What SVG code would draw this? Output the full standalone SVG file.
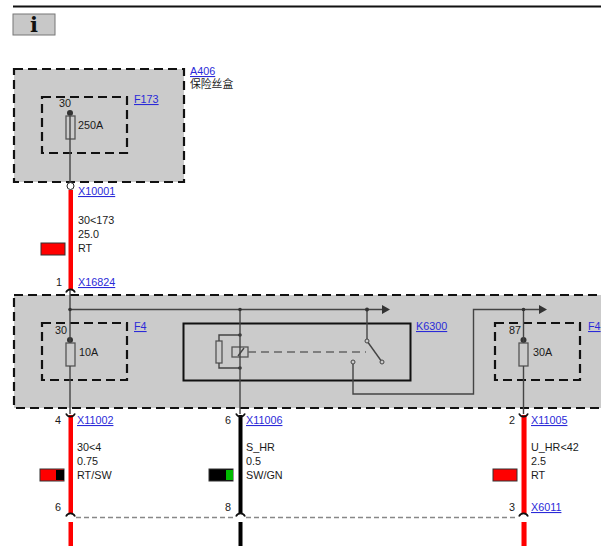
<svg xmlns="http://www.w3.org/2000/svg" width="601" height="546" viewBox="0 0 601 546">
<style>
text{font-family:"Liberation Sans",Arial,"Noto Sans CJK SC",sans-serif;font-size:10.8px;fill:#1a1a1a}
.l{fill:#2a2ad8;text-decoration:underline}
.b{fill:#cbcbcb;stroke:#111;stroke-width:2.200;stroke-dasharray:9 5}
.i{fill:none;stroke:#111;stroke-width:2.200;stroke-dasharray:9 5}
.w{fill:none;stroke:#444;stroke-width:1.400}
.f{fill:none;stroke:#555;stroke-width:1.300}
.d{fill:#333}
.c{fill:none;stroke:#111;stroke-width:1.700}
.s{stroke:#333;stroke-width:1}
</style>
<defs>
<g id="up"><path class="c" d="M-4.500 3.500 A4.800 4.800 0 0 1 4.500 3.500"/></g>
<g id="dn"><path class="c" d="M-4.500 -2.500 A4.800 4.800 0 0 0 4.500 -2.500"/></g>
</defs>
<rect x="13" y="5.500" width="588" height="2" fill="#111"/>
<g id="info"><rect x="13" y="14" width="42" height="21" fill="#c8c8c8" stroke="#777" stroke-width="1"/><text x="34" y="32" text-anchor="middle" style="font-family:'DejaVu Serif',serif;font-size:21px;font-weight:bold;fill:#111">i</text></g>
<g id="A406"><rect class="b" x="14" y="69" width="170" height="113"/><text class="l" x="190" y="75">A406</text><text x="190" y="88">保险丝盒</text></g>
<g id="F173"><rect class="i" x="42" y="97" width="85" height="56"/><text class="l" x="134" y="103">F173</text><text x="59" y="107">30</text><text x="78" y="129">250A</text><circle class="d" cx="70" cy="113" r="3"/><rect class="f" x="66" y="116" width="9" height="23"/></g>
<g id="K-panel"><rect class="b" x="14" y="295" width="600" height="113"/></g>
<g id="F4-left"><rect class="i" x="42" y="323" width="85" height="57"/><text class="l" x="134" y="330">F4</text><text x="55" y="334">30</text><text x="79" y="356">10A</text><circle class="d" cx="70" cy="340" r="3"/><rect class="f" x="66" y="343" width="9" height="23"/></g>
<g id="K6300"><rect x="183.500" y="323.500" width="227" height="57" fill="none" stroke="#111" stroke-width="2"/><text class="l" x="416" y="330">K6300</text>
<rect class="f" x="216" y="341" width="6" height="22"/><path class="w" d="M219 341V335H240M219 363V368H240"/><rect class="f" x="232" y="347" width="16" height="10"/><path class="w" d="M238 356L244 348"/><path d="M248 352H366" fill="none" stroke="#666" stroke-width="1.700" stroke-dasharray="8 5"/><circle class="d" cx="240" cy="335" r="1.800"/><circle class="d" cx="240" cy="368" r="1.800"/><path class="w" d="M367 341L382 362"/><circle cx="367" cy="341" r="2" fill="#ccc" stroke="#444"/><circle cx="382" cy="362" r="2" fill="#ccc" stroke="#444"/><circle cx="353" cy="362" r="2" fill="#ccc" stroke="#444"/></g>
<g id="F4-right"><rect class="i" x="495" y="323" width="85" height="57"/><text class="l" x="588" y="330">F4</text><text x="509" y="334">87</text><text x="533" y="356">30A</text><circle class="d" cx="523.500" cy="340" r="3"/><rect class="f" x="519" y="343" width="9" height="23"/></g>
<g id="connectors">
<path class="w" d="M70 116V182M70 285V343M70 366V414M70 309.500H383M240 309.500V414M367 309.500V339M353 364V394H473.500V309.500H540M523.500 309.500V343M523.500 366V414"/>
<path class="d" d="M382 305L390 309.500L382 314ZM539 305L547 309.500L539 314Z"/>
<circle class="d" cx="70" cy="309.500" r="1.800"/><circle class="d" cx="240" cy="309.500" r="1.800"/><circle class="d" cx="367" cy="309.500" r="2"/><circle class="d" cx="523.500" cy="309.500" r="1.800"/>
<rect x="68.500" y="190" width="4.500" height="100" fill="#f00"/>
<circle cx="70.500" cy="186" r="3.500" fill="#fff" stroke="#222"/>
<g fill="#f00"><rect x="68.500" y="415" width="4.500" height="99"/><rect x="68.500" y="522" width="4.500" height="24"/><rect x="521.500" y="415" width="4.500" height="99"/><rect x="521.500" y="522" width="4.500" height="24"/></g>
<g fill="#ff7070"><rect x="526" y="415" width="1" height="99"/><rect x="526" y="522" width="1" height="24"/></g>
<rect x="238.500" y="415" width="4" height="99" fill="#000"/><rect x="238.500" y="522" width="4" height="24" fill="#000"/>
<use href="#up" x="70.500" y="289"/>
<use href="#dn" x="70.500" y="416"/><use href="#dn" x="240.500" y="416"/><use href="#dn" x="523.500" y="416"/>
<use href="#up" x="70.500" y="513"/><use href="#up" x="240.500" y="513"/><use href="#up" x="523.500" y="513"/>
<path d="M76 517.500H235M246 517.500H518" fill="none" stroke="#888" stroke-width="1.300" stroke-dasharray="5 3"/>
</g>
<g id="wire-1"><text class="l" x="78" y="195">X10001</text><text x="78" y="224">30&lt;173</text><text x="78" y="238">25.0</text><text x="78" y="252">RT</text><rect class="s" x="41" y="243" width="24" height="12" fill="#f00"/><text x="56" y="286">1</text><text class="l" x="78" y="286">X16824</text></g>
<g id="wire-2"><text x="55" y="424">4</text><text class="l" x="77" y="424">X11002</text><text x="77" y="451">30&lt;4</text><text x="77" y="465">0.75</text><text x="77" y="479">RT/SW</text><rect class="s" x="40" y="469" width="24" height="12" fill="#f00"/><rect x="56" y="470" width="8" height="10" fill="#000"/><text x="55" y="511">6</text></g>
<g id="wire-3"><text x="225" y="424">6</text><text class="l" x="246" y="424">X11006</text><text x="246" y="451">S_HR</text><text x="246" y="465">0.5</text><text x="246" y="479">SW/GN</text><rect class="s" x="209" y="469" width="24" height="12" fill="#000"/><rect x="226" y="470" width="7" height="10" fill="#0b0"/><text x="225" y="511">8</text></g>
<g id="wire-4"><text x="509" y="424">2</text><text class="l" x="531" y="424">X11005</text><text x="531" y="451">U_HR&lt;42</text><text x="531" y="465">2.5</text><text x="531" y="479">RT</text><rect class="s" x="493" y="469" width="24" height="12" fill="#f00"/><text x="509" y="511">3</text><text class="l" x="531" y="511">X6011</text></g>
</svg>
